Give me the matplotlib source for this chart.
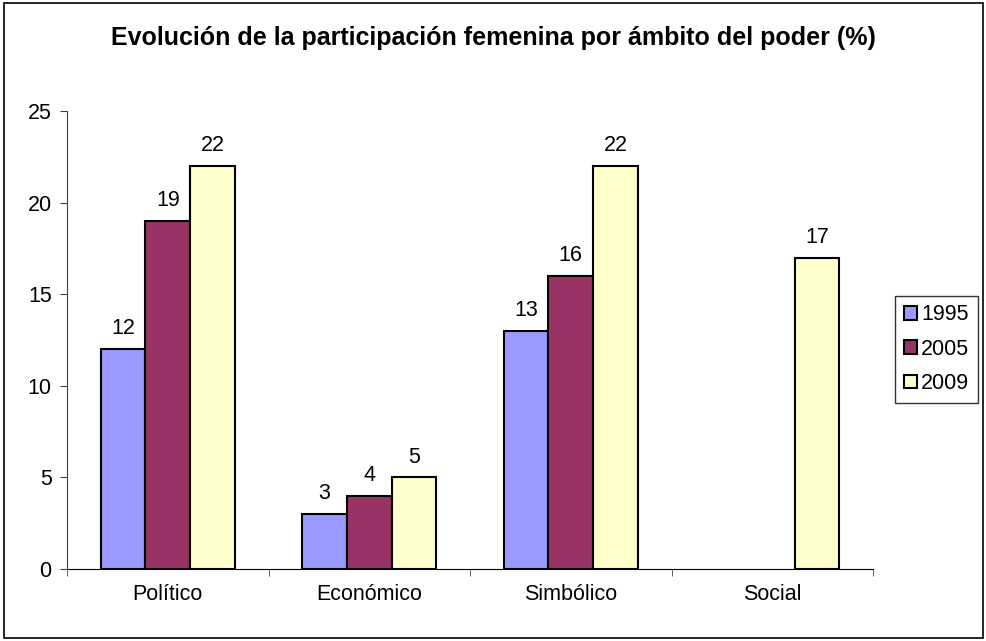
import numpy as np
import matplotlib.pyplot as plt
from matplotlib.patches import Rectangle

plt.rcParams['font.family'] = ['Liberation Sans', 'DejaVu Sans']

categorias = ['Político', 'Económico', 'Simbólico', 'Social']
anios = ['1995', '2005', '2009']
v1995 = [12, 3, 13, np.nan]
v2005 = [19, 4, 16, np.nan]
v2009 = [22, 5, 22, 17]
colores = ['#9999FF', '#993366', '#FFFFCC']

fig = plt.figure(figsize=(9.87, 6.41), dpi=100)
ax = fig.add_axes([0.0679, 0.1123, 0.8166, 0.7145])

# marco exterior del grafico
fig.patches.append(Rectangle((0.004, 0.005), 0.992, 0.99, transform=fig.transFigure,
                             fill=False, edgecolor='black', linewidth=1.2))

x = np.arange(len(categorias))
ancho = 1 / 4.5
for i, (serie, col, lab) in enumerate(zip([v1995, v2005, v2009], colores, anios)):
    pos = x + (i - 1) * ancho
    ax.bar(pos, serie, width=ancho, color=col, edgecolor='black',
           linewidth=1.5, label=lab)
    for p, v in zip(pos, serie):
        if not np.isnan(v):
            ax.annotate(f'{v:g}', (p, v), xytext=(0, 7), textcoords='offset points',
                        ha='center', va='bottom', fontsize=15.5)

ax.set_xlim(-0.5, len(categorias) - 0.5)
ax.set_ylim(0, 25)
ax.set_yticks(range(0, 26, 5))
ax.set_xticks(x)
ax.set_xticklabels(categorias, fontsize=15.5)
ax.set_xticks(np.arange(-0.5, len(categorias)), minor=True)
ax.tick_params(axis='x', which='major', length=0, pad=11)
ax.tick_params(axis='x', which='minor', length=5, direction='out', color='#444444')
ax.tick_params(axis='y', length=5, direction='out', labelsize=15.5, pad=6, color='#444444')
for s in ['top', 'right']:
    ax.spines[s].set_visible(False)
ax.spines['left'].set_color('#444444')
ax.spines['bottom'].set_color('black')

fig.suptitle('Evolución de la participación femenina por ámbito del poder (%)',
             fontsize=18, fontweight='bold', y=0.96, x=0.5)

leg = ax.legend(loc='center left', bbox_to_anchor=(1.014, 0.48), fontsize=15.5,
                frameon=True, fancybox=False, edgecolor='black', handlelength=0.6,
                handleheight=0.6, handletextpad=0.2, labelspacing=0.62,
                borderpad=0.4, borderaxespad=0.5)
leg.get_frame().set_linewidth(1.0)

fig.savefig('out.png', dpi=100)
